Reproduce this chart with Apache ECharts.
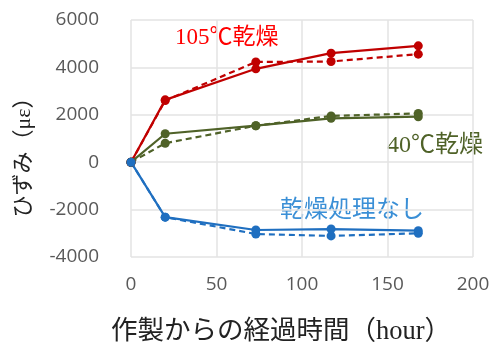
<!DOCTYPE html>
<html>
<head>
<meta charset="utf-8">
<script src="https://cdn.jsdelivr.net/npm/echarts@6/dist/echarts.min.js"></script>
<style>
  html, body { margin: 0; padding: 0; background: #fff; }
  #chart { width: 492px; height: 343px; }
</style>
</head>
<body>
<div id="chart"></div>
<script>
// elapsed hours since casting
const hours = [0, 20, 73, 117, 168];

// strain (με) per drying condition, solid / dashed specimens
const dry105Solid = [0, 2630, 3940, 4600, 4910];
const dry105Dashed = [0, 2600, 4230, 4250, 4560];
const dry40Solid = [0, 1200, 1540, 1850, 1920];
const dry40Dashed = [0, 800, 1540, 1950, 2060];
const noDrySolid = [0, -2320, -2860, -2820, -2890];
const noDryDashed = [0, -2320, -3030, -3110, -3000];

const xTicks = [0, 50, 100, 150, 200];
const yTicks = [-4000, -2000, 0, 2000, 4000, 6000];

const RED = '#c00000';
const GREEN = '#4f6228';
const BLUE = '#1f6fc0';
const SERIF_JP = '"Liberation Serif", "Noto Sans CJK JP"';

const chart = echarts.init(document.getElementById('chart'));

const pairs = (ys) => hours.map((h, i) => [h, ys[i]]);

const makeSeries = (name, ys, color, dashed) => ({
  name: name,
  type: 'line',
  data: pairs(ys),
  symbol: 'circle',
  symbolSize: 9,
  showSymbol: true,
  itemStyle: { color: color },
  lineStyle: { color: color, width: 2.2, type: dashed ? [6, 4] : 'solid' },
  z: dashed ? 3 : 4
});

const option = {
  backgroundColor: '#fff',
  animation: false,
  grid: { left: 131, right: 19, top: 20, bottom: 86, outerBoundsMode: 'none', containLabel: false },
  xAxis: {
    type: 'value',
    min: xTicks[0],
    max: xTicks[xTicks.length - 1],
    interval: 50,
    axisLine: { show: false },
    axisTick: { show: false },
    axisLabel: { color: '#595959', fontSize: 19, fontFamily: 'Open Sans', margin: 18 },
    splitLine: { lineStyle: { color: '#e3e3e3', width: 1.5 } },
    name: '作製からの経過時間（hour）',
    nameLocation: 'middle',
    nameGap: 62,
    nameTextStyle: { color: '#222', fontSize: 26.5, fontFamily: SERIF_JP, padding: [0, 42, 0, 0] }
  },
  yAxis: {
    type: 'value',
    min: yTicks[0],
    max: yTicks[yTicks.length - 1],
    interval: 2000,
    axisLine: { show: false },
    axisTick: { show: false },
    axisLabel: { color: '#595959', fontSize: 19, fontFamily: 'Open Sans', margin: 32, formatter: (v) => String(v) },
    splitLine: { lineStyle: { color: '#e3e3e3', width: 1.5 } },
    name: 'ひずみ（με）',
    nameLocation: 'middle',
    nameGap: 96,
    nameTextStyle: { color: '#222', fontSize: 22, fontFamily: SERIF_JP, padding: [0, 27, 0, 0] }
  },
  graphic: [
    {
      type: 'text', left: 175, top: 26,
      style: { text: '105℃乾燥', fill: '#ff0000', fontSize: 23, fontFamily: SERIF_JP }
    },
    {
      type: 'text', left: 387, top: 134,
      style: { text: '40℃乾燥', fill: GREEN, fontSize: 24, fontFamily: SERIF_JP }
    },
    {
      type: 'text', left: 280, top: 196,
      style: { text: '乾燥処理なし', fill: '#3a8fd6', fontSize: 24, fontFamily: '"Noto Sans CJK JP"' }
    }
  ],
  series: [
    makeSeries('105℃乾燥 A', dry105Solid, RED, false),
    makeSeries('105℃乾燥 B', dry105Dashed, RED, true),
    makeSeries('40℃乾燥 A', dry40Solid, GREEN, false),
    makeSeries('40℃乾燥 B', dry40Dashed, GREEN, true),
    makeSeries('乾燥処理なし A', noDrySolid, BLUE, false),
    makeSeries('乾燥処理なし B', noDryDashed, BLUE, true)
  ]
};

chart.setOption(option);
</script>
</body>
</html>
